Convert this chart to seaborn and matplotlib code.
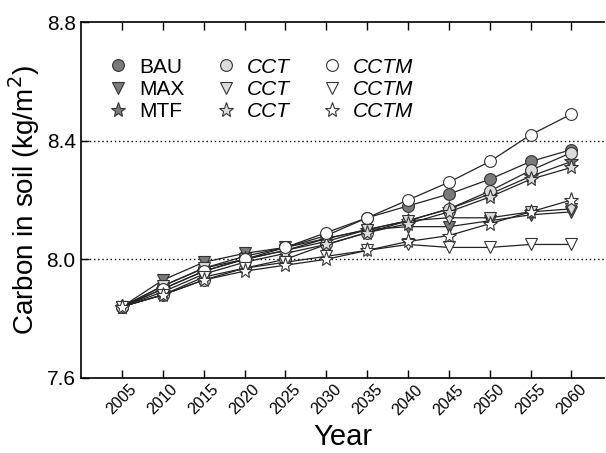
import matplotlib
matplotlib.use('Agg')
import matplotlib.pyplot as plt
from matplotlib.lines import Line2D
import seaborn as sns

# Data
years = [2005, 2010, 2015, 2020, 2025, 2030, 2035, 2040, 2045, 2050, 2055, 2060]

bau = [7.84, 7.91, 7.97, 8.01, 8.04, 8.08, 8.14, 8.18, 8.22, 8.27, 8.33, 8.37]
max_ = [7.84, 7.93, 7.99, 8.02, 8.04, 8.07, 8.10, 8.11, 8.11, 8.13, 8.15, 8.16]
mtf = [7.84, 7.90, 7.96, 8.00, 8.03, 8.06, 8.10, 8.13, 8.17, 8.22, 8.28, 8.33]
cct_c = [7.84, 7.88, 7.93, 7.97, 8.00, 8.05, 8.09, 8.13, 8.17, 8.23, 8.30, 8.36]
cct_t = [7.84, 7.91, 7.97, 8.00, 8.03, 8.07, 8.10, 8.13, 8.14, 8.14, 8.16, 8.17]
cct_s = [7.84, 7.89, 7.95, 7.99, 8.02, 8.05, 8.09, 8.12, 8.16, 8.21, 8.27, 8.31]
cctm_c = [7.84, 7.90, 7.96, 8.00, 8.04, 8.09, 8.14, 8.20, 8.26, 8.33, 8.42, 8.49]
cctm_t = [7.84, 7.88, 7.94, 7.97, 7.99, 8.01, 8.03, 8.05, 8.04, 8.04, 8.05, 8.05]
cctm_s = [7.84, 7.88, 7.93, 7.96, 7.98, 8.00, 8.03, 8.06, 8.08, 8.12, 8.16, 8.20]

labels = ['BAU', 'MAX', 'MTF', 'CCT', 'CCT', 'CCT', 'CCTM', 'CCTM', 'CCTM']

dark = '#7a7a7a'
light = '#dcdcdc'
white = '#ffffff'

series = [
    (bau, 'o', dark), (max_, 'v', dark), (mtf, '*', dark),
    (cct_c, 'o', light), (cct_t, 'v', light), (cct_s, '*', light),
    (cctm_c, 'o', white), (cctm_t, 'v', white), (cctm_s, '*', white),
]

sns.set_style('ticks')
plt.rcParams['font.family'] = ['Liberation Sans', 'DejaVu Sans']
plt.rcParams['text.color'] = 'black'
plt.rcParams['axes.labelcolor'] = 'black'
plt.rcParams['xtick.color'] = 'black'
plt.rcParams['ytick.color'] = 'black'

fig = plt.figure(figsize=(6.06, 4.53), dpi=100)
ax = fig.add_axes([0.134, 0.166, 0.863, 0.785])

for vals, m, fc in series:
    ms = 11 if m == '*' else 8.5
    sns.lineplot(x=years, y=vals, ax=ax, color='#222222', linewidth=0.9,
                 marker=m, markersize=ms, markerfacecolor=fc,
                 markeredgecolor='#333333', markeredgewidth=0.8)

# Dotted reference lines
for yv in [8.0, 8.4]:
    ax.axhline(yv, color='black', linestyle=(0, (1, 2)), linewidth=1, zorder=0)

ax.set_xlim(2000, 2064)
ax.set_ylim(7.6, 8.8)
ax.set_xticks(years)
ax.set_yticks([7.6, 8.0, 8.4, 8.8])
ax.set_yticklabels(['7.6', '8.0', '8.4', '8.8'], fontsize=15)
ax.set_xticklabels([str(y) for y in years], rotation=45, fontsize=11.5)
ax.tick_params(axis='x', direction='in', top=True, length=6, width=1, pad=3)
ax.tick_params(axis='y', direction='in', length=6, width=1, pad=4)
ax.spines['right'].set_visible(False)
for s in ['left', 'bottom', 'top']:
    ax.spines[s].set_linewidth(1.2)
    ax.spines[s].set_color('black')

ax.set_xlabel('Year', fontsize=21, labelpad=4)
ax.set_ylabel('Carbon in soil (kg/m$^2$)', fontsize=20, labelpad=3)

# Legend (markers only, 3 columns)
handles = []
for vals, m, fc in series:
    ms = 11 if m == '*' else 8.5
    handles.append(Line2D([], [], linestyle='none', marker=m, markersize=ms,
                          markerfacecolor=fc, markeredgecolor='#333333',
                          markeredgewidth=0.8))
leg = ax.legend(handles, labels, ncol=3, frameon=False, loc='upper left',
                bbox_to_anchor=(0.054, 0.9), fontsize=15, handlelength=0.8,
                handletextpad=0.62, columnspacing=1.6, labelspacing=0.15,
                borderaxespad=0, borderpad=0)
for i, t in enumerate(leg.get_texts()):
    if i >= 3:
        t.set_fontstyle('italic')

fig.savefig('out.png', dpi=100)
plt.close(fig)
